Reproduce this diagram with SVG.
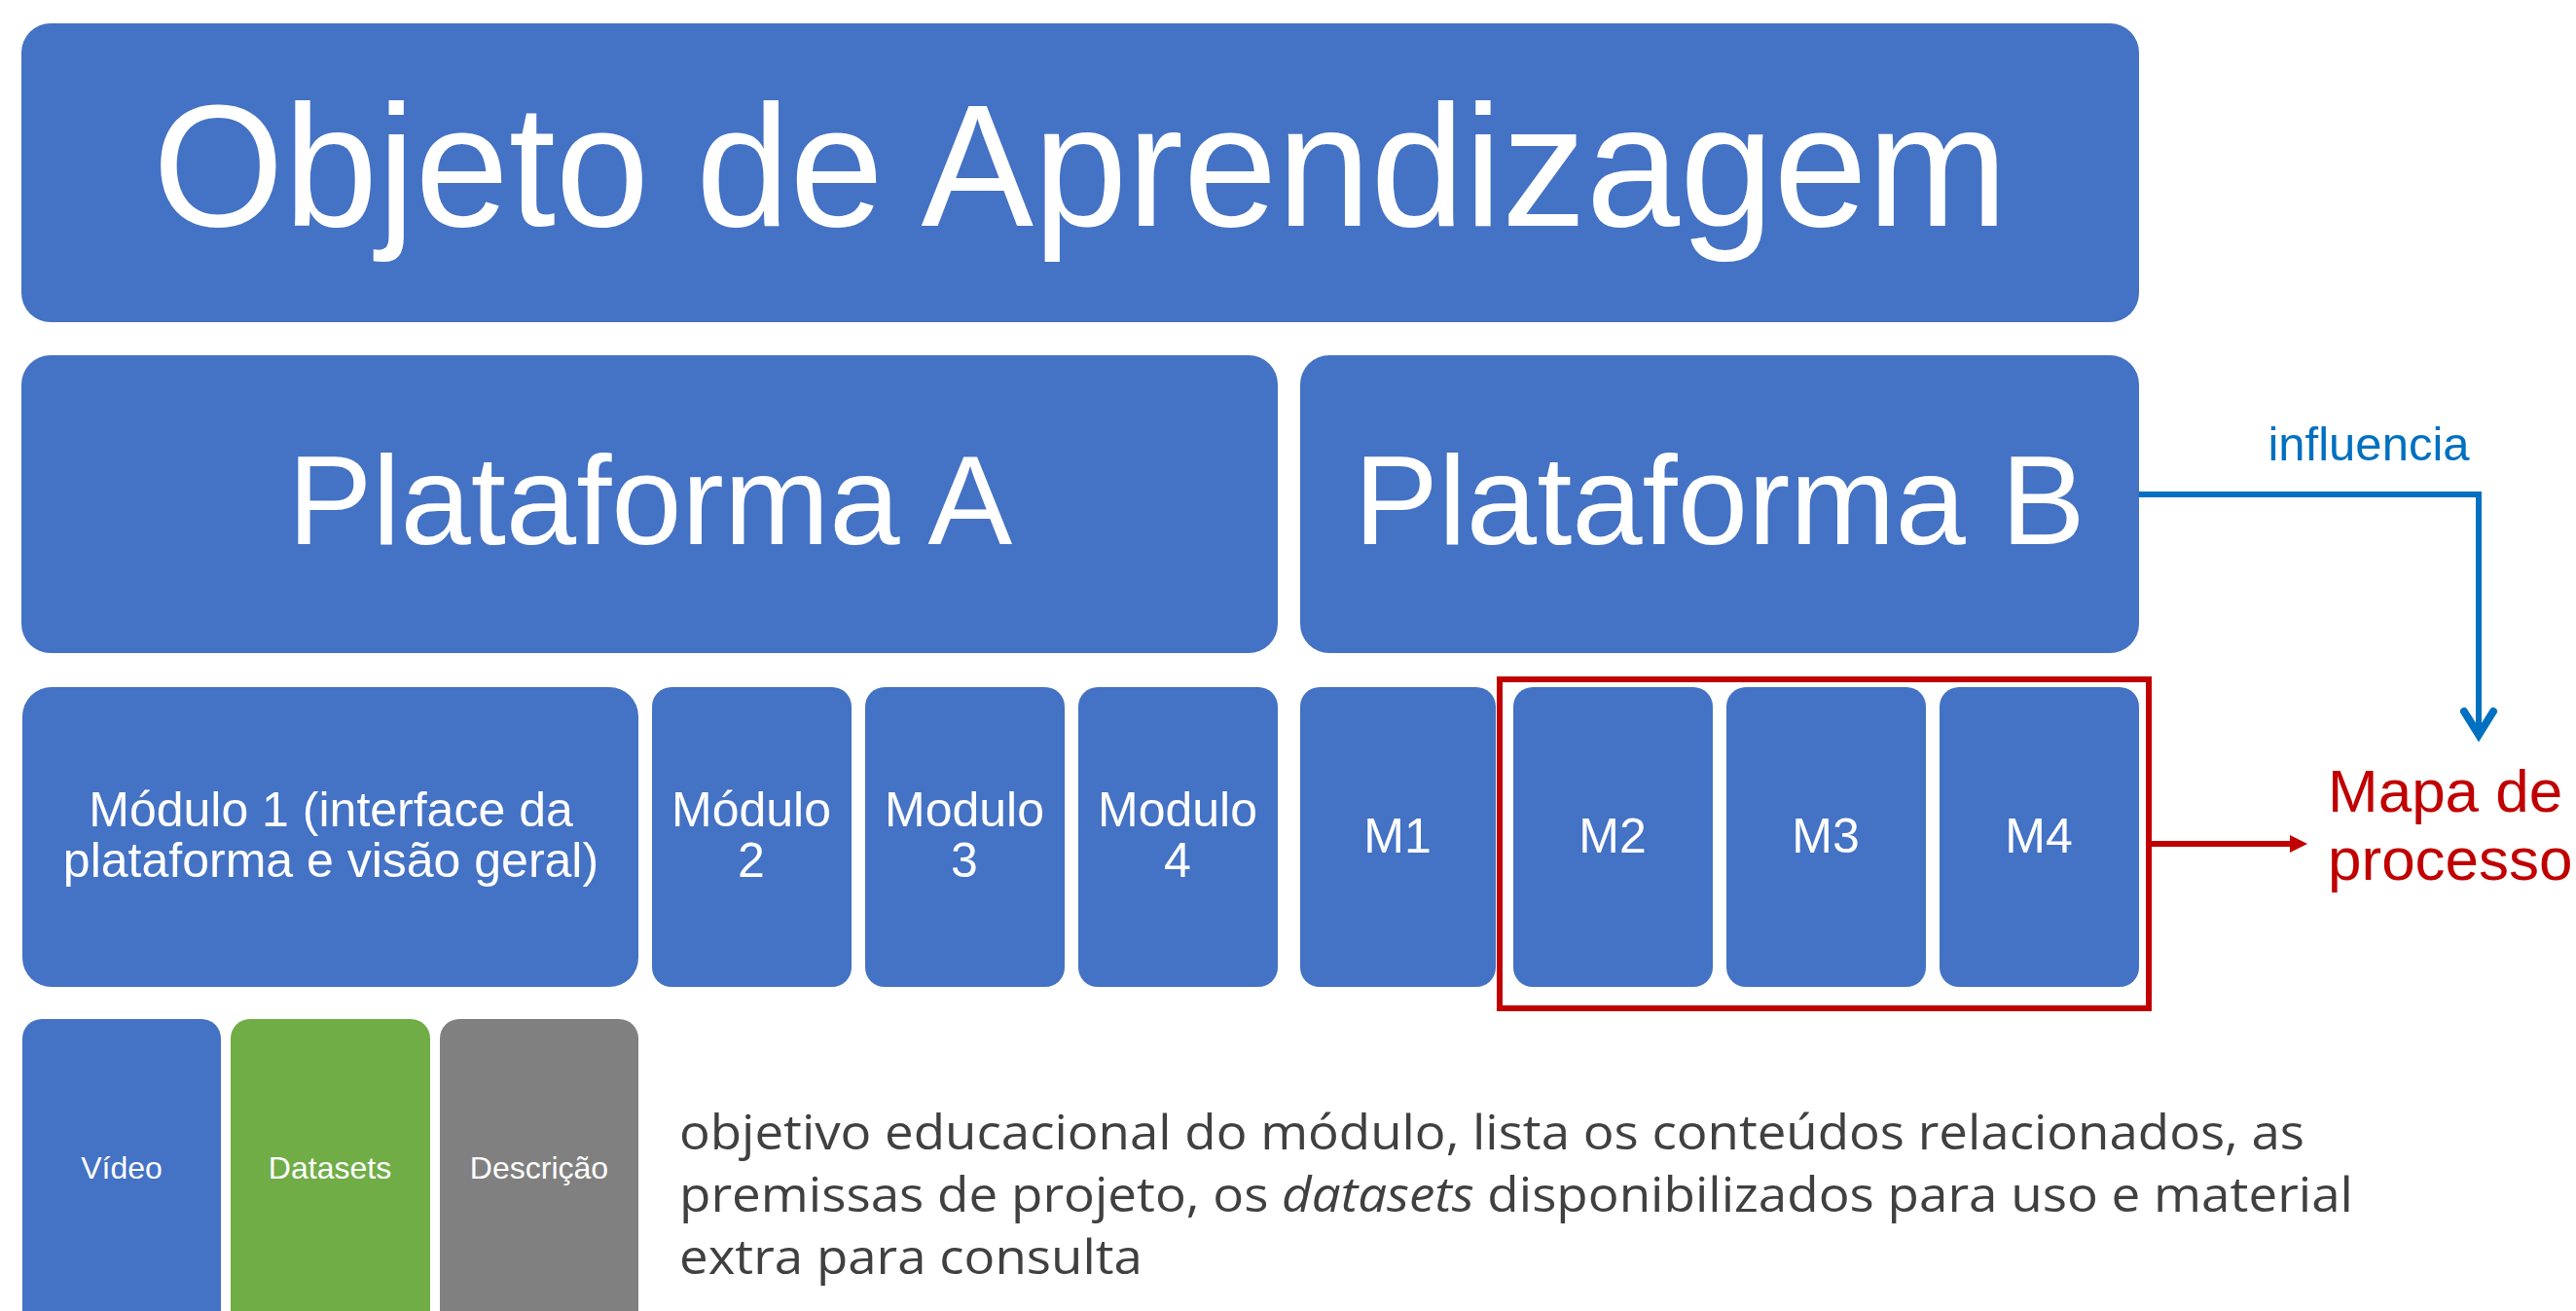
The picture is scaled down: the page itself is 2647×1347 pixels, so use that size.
<svg xmlns="http://www.w3.org/2000/svg" width="2647" height="1347" viewBox="0 0 2647 1347">
<style>
.blue{fill:#4472C4}
.green{fill:#70AD47}
.gray{fill:#808080}
.t{font-family:"Liberation Sans",Arial,sans-serif;fill:#fff;text-anchor:middle}
.big{font-size:178px}
.plat{font-size:130px}
.mod{font-size:50px}
.small{font-size:32px}
.desc{font-family:"Open Sans","Noto Sans",sans-serif;font-size:50px;fill:#404040}
</style>
<rect width="2647" height="1347" fill="#fff"/>
<g id="objeto">
<rect class="blue" x="22" y="24" width="2176" height="307" rx="30"/>
<text class="t big" x="1110" y="232" textLength="1906" lengthAdjust="spacingAndGlyphs">Objeto de Aprendizagem</text>
</g>
<g id="plataforma-a">
<rect class="blue" x="22" y="365" width="1291" height="306" rx="30"/>
<text class="t plat" x="668" y="559">Plataforma A</text>
</g>
<g id="plataforma-b">
<rect class="blue" x="1336" y="365" width="862" height="306" rx="30"/>
<text class="t plat" x="1767" y="559">Plataforma B</text>
</g>
<g id="modulo1">
<rect class="blue" x="23" y="706" width="633" height="308" rx="30"/>
<text class="t mod" x="340" y="849">Módulo 1 (interface da</text>
<text class="t mod" x="340" y="901">plataforma e visão geral)</text>
</g>
<g id="modulo2">
<rect class="blue" x="670" y="706" width="205" height="308" rx="20"/>
<text class="t mod" x="772" y="849">Módulo</text>
<text class="t mod" x="772" y="901">2</text>
</g>
<g id="modulo3">
<rect class="blue" x="889" y="706" width="205" height="308" rx="20"/>
<text class="t mod" x="991" y="849">Modulo</text>
<text class="t mod" x="991" y="901">3</text>
</g>
<g id="modulo4">
<rect class="blue" x="1108" y="706" width="205" height="308" rx="20"/>
<text class="t mod" x="1210" y="849">Modulo</text>
<text class="t mod" x="1210" y="901">4</text>
</g>
<g id="m1">
<rect class="blue" x="1336" y="706" width="201" height="308" rx="20"/>
<text class="t mod" x="1436" y="876">M1</text>
</g>
<g id="m2">
<rect class="blue" x="1555" y="706" width="205" height="308" rx="20"/>
<text class="t mod" x="1657" y="876">M2</text>
</g>
<g id="m3">
<rect class="blue" x="1774" y="706" width="205" height="308" rx="20"/>
<text class="t mod" x="1876" y="876">M3</text>
</g>
<g id="m4">
<rect class="blue" x="1993" y="706" width="205" height="308" rx="20"/>
<text class="t mod" x="2095" y="876">M4</text>
</g>
<g id="grupo-m2-m4">
<rect x="1541" y="698" width="667" height="338" fill="none" stroke="#C00000" stroke-width="6"/>
</g>
<g id="video">
<rect class="blue" x="23" y="1047" width="204" height="330" rx="20"/>
<text class="t small" x="125" y="1211">Vídeo</text>
</g>
<g id="datasets">
<rect class="green" x="237" y="1047" width="205" height="330" rx="20"/>
<text class="t small" x="339" y="1211">Datasets</text>
</g>
<g id="descricao">
<rect class="gray" x="452" y="1047" width="204" height="330" rx="20"/>
<text class="t small" x="554" y="1211">Descrição</text>
</g>
<g id="descricao-texto">
<text class="desc" x="698" y="1181" textLength="1670" lengthAdjust="spacingAndGlyphs">objetivo educacional do módulo, lista os conteúdos relacionados, as</text>
<text class="desc" x="698" y="1245" textLength="1720" lengthAdjust="spacingAndGlyphs">premissas de projeto, os <tspan font-style="italic">datasets</tspan> disponibilizados para uso e material</text>
<text class="desc" x="698" y="1309" textLength="476" lengthAdjust="spacingAndGlyphs">extra para consulta</text>
</g>
<g id="mapa-de-processo">
<text x="2392" y="834" font-family="Liberation Sans, Arial, sans-serif" font-size="62" fill="#C00000">Mapa de</text>
<text x="2392" y="904" font-family="Liberation Sans, Arial, sans-serif" font-size="62" fill="#C00000">processo</text>
</g>
<g id="connectors">
<path d="M2198,508 H2547 V752" fill="none" stroke="#0070C0" stroke-width="6"/>
<polyline points="2532,731 2547,755 2562,731" fill="none" stroke="#0070C0" stroke-width="8" stroke-linecap="round" stroke-linejoin="miter"/>
<text x="2434" y="473" font-family="Liberation Sans, Arial, sans-serif" font-size="49" fill="#0070C0" text-anchor="middle">influencia</text>
<path d="M2209,867 H2356" fill="none" stroke="#C00000" stroke-width="6"/>
<polygon points="2353,858 2371,867 2353,876" fill="#C00000"/>
</g>
</svg>
